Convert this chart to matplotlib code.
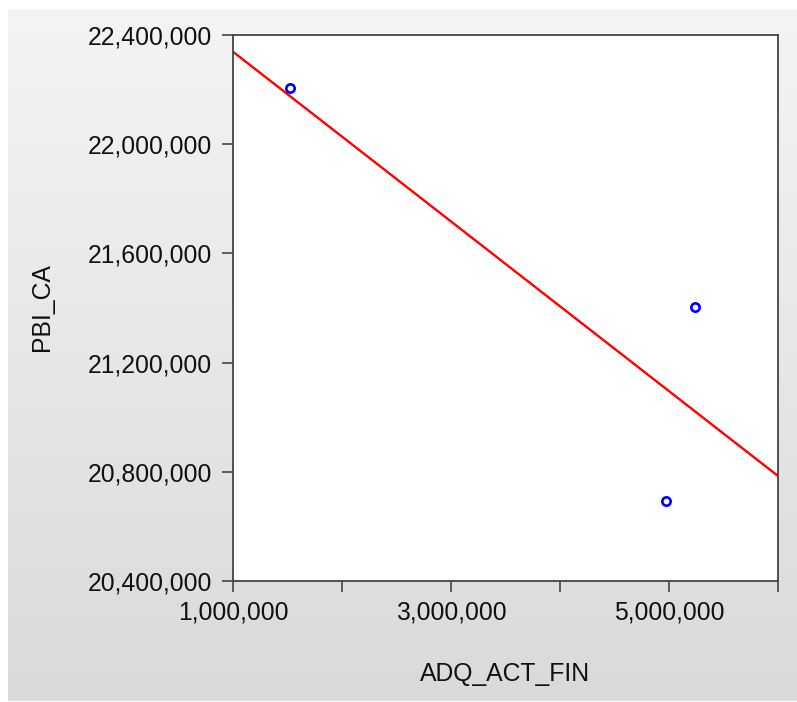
import numpy as np
import matplotlib
matplotlib.use("Agg")
import matplotlib.pyplot as plt
from matplotlib.ticker import FuncFormatter, MultipleLocator

# Data
adq_act_fin = [1523000, 5239000, 4972000]
pbi_ca = [22205500, 21402000, 20694000]
x_label = "ADQ_ACT_FIN"
y_label = "PBI_CA"
x_major = [1000000, 3000000, 5000000]
y_ticks = [20400000, 20800000, 21200000, 21600000, 22000000, 22400000]

plt.rcParams['font.family'] = ['Liberation Sans', 'DejaVu Sans']

W, H = 797, 702
fig = plt.figure(figsize=(W / 100, H / 100), dpi=100)
fig.patch.set_facecolor('white')

# gradient background panel
bg = fig.add_axes([8 / W, 1 / H, (W - 8) / W, (H - 10) / H])
grad = np.linspace(0.957, 0.855, 256).reshape(-1, 1)
bg.imshow(np.repeat(grad[:, :, None], 3, axis=2), aspect='auto', extent=[0, 1, 0, 1])
bg.set_axis_off()
bg.set_zorder(-10)

ax = fig.add_axes([233 / W, (H - 581) / H, 545 / W, 546 / H])
ax.set_facecolor('white')

x = np.array(adq_act_fin, dtype=float)
y = np.array(pbi_ca, dtype=float)
slope, intercept = np.polyfit(x, y, 1)
xl = np.array([1000000, 6000000], dtype=float)
ax.plot(xl, slope * xl + intercept, color='#ff0000', lw=1.7, zorder=2, clip_on=True)
ax.plot(x, y, linestyle='none', marker='o', markersize=6, markerfacecolor='none',
        markeredgecolor='#0000ff', markeredgewidth=1.9, zorder=3)

ax.set_xlim(1000000, 6000000)
ax.set_ylim(20400000, 22400000)
ax.xaxis.set_major_locator(MultipleLocator(1000000))
ax.set_yticks(y_ticks)
fmt_x = FuncFormatter(lambda v, p: f"{int(round(v)):,}" if int(round(v)) in x_major else "")
ax.xaxis.set_major_formatter(fmt_x)
ax.yaxis.set_major_formatter(FuncFormatter(lambda v, p: f"{int(round(v)):,}"))

for s in ax.spines.values():
    s.set_color('#444444')
    s.set_linewidth(1.3)
ax.tick_params(axis='both', direction='out', length=8, width=1.2, color='#444444',
               labelsize=17.8, labelcolor='#111111')
ax.tick_params(axis='y', pad=7)
ax.tick_params(axis='x', pad=6)

fig.text(42 / W, 1 - 307 / H, y_label, rotation=90, ha='center', va='center',
         fontsize=17.8, color='#111111')
fig.text(505 / W, 1 - 674 / H, x_label, ha='center', va='center',
         fontsize=17.8, color='#111111')

fig.savefig('out.png', dpi=100)
